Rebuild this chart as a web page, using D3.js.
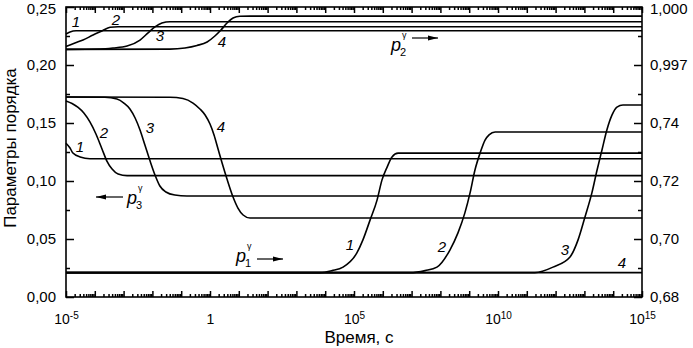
<!DOCTYPE html>
<html><head><meta charset="utf-8">
<script src="https://cdn.jsdelivr.net/npm/d3@7"></script>
<style>
body{margin:0;background:#fff}
svg{display:block}
text{font-family:"Liberation Sans",Arial,Helvetica,sans-serif;fill:#000}
</style>
</head><body>
<svg id="c" width="693" height="348"></svg>
<script>
// ---------- data ----------
const xDecades = [-5,-4,-3,-2,-1,0,1,2,3,4,5,6,7,8,9,10,11,12,13,14,15];
const xLabeled = [-5,0,5,10,15];
const leftTicks = [0,0.05,0.10,0.15,0.20,0.25];
const leftMinor = [0.025,0.075,0.125,0.175,0.225];
const rightLowTicks = [0.68,0.70,0.72,0.74];
const rightLowMinor = [0.69,0.71,0.73,0.75];
const rightHighTicks = [0.997,1.000];
const rightHighMinor = [0.9985];
const curveNames = ["1","2","3","4"];

// p1 (right axis, lower part), [log10 t, value]
const p1c1 = [[-5,0.6884],[3.82,0.6884],[4.24,0.6891],[4.62,0.6903],[5.10,0.6952],[5.31,0.6997],[5.56,0.7066],[5.80,0.7134],[5.97,0.7203],[6.15,0.7248],[6.32,0.7283],[6.53,0.7296],[15,0.7296]];
const p1c2 = [[-5,0.6884],[6.94,0.6884],[7.47,0.6891],[7.88,0.6903],[8.33,0.6962],[8.61,0.7021],[8.85,0.7090],[9.03,0.7159],[9.20,0.7238],[9.38,0.7297],[9.55,0.7341],[9.69,0.7359],[9.90,0.7369],[15,0.7369]];
const p1c3 = [[-5,0.6884],[11.28,0.6884],[11.91,0.6903],[12.50,0.6938],[12.78,0.6997],[13.02,0.7076],[13.26,0.7159],[13.44,0.7238],[13.61,0.7307],[13.78,0.7376],[13.96,0.7428],[14.13,0.7455],[14.34,0.7462],[15,0.7462]];
const p1c4 = [[-5,0.6884],[15,0.6884]];

// p2 (right axis, upper part)
const p2c1 = [[-5,0.99860],[-4.86,0.99871],[-4.65,0.99877],[15,0.99877]];
const p2c2 = [[-5,0.99796],[-4.69,0.99814],[-4.41,0.99829],[-4.06,0.99855],[-3.75,0.99876],[-3.47,0.99895],[-3.19,0.99898],[15,0.99898]];
const p2c3 = [[-5,0.99781],[-3.82,0.99783],[-3.37,0.99788],[-2.88,0.99798],[-2.43,0.99829],[-2.15,0.99866],[-1.91,0.99897],[-1.67,0.99917],[-1.39,0.99924],[15,0.99924]];
const p2c4 = [[-5,0.99781],[-1.39,0.99782],[-0.87,0.99788],[-0.45,0.99801],[-0.10,0.99819],[0.17,0.99850],[0.38,0.99881],[0.59,0.99917],[0.80,0.99943],[1.04,0.99952],[1.39,0.99953],[15,0.99953]];

// p3 (left axis)
const p3c1 = [[-5,0.1325],[-4.86,0.1284],[-4.76,0.1241],[-4.51,0.1207],[-4.17,0.1192],[15,0.1192]];
const p3c2 = [[-5,0.1690],[-4.79,0.1668],[-4.58,0.1634],[-4.38,0.1586],[-4.17,0.1509],[-3.96,0.1405],[-3.75,0.1276],[-3.58,0.1172],[-3.40,0.1103],[-3.19,0.1060],[-2.88,0.1046],[15,0.1046]];
const p3c3 = [[-5,0.1724],[-3.65,0.1722],[-3.23,0.1707],[-2.99,0.1672],[-2.78,0.1621],[-2.60,0.1543],[-2.43,0.1440],[-2.26,0.1310],[-2.08,0.1172],[-1.91,0.1052],[-1.74,0.0957],[-1.53,0.0905],[-1.22,0.0879],[-0.80,0.0871],[15,0.0871]];
const p3c4 = [[-5,0.1724],[-1.39,0.1722],[-0.94,0.1711],[-0.59,0.1672],[-0.35,0.1621],[-0.17,0.1569],[0.0,0.1491],[0.14,0.1397],[0.28,0.1276],[0.42,0.1155],[0.59,0.1017],[0.80,0.0862],[0.97,0.0767],[1.15,0.0707],[1.39,0.0681],[15,0.0681]];

// ---------- layout ----------
const M = {l:66, r:642, t:7, b:297};
const svg = d3.select("#c");
const x = d3.scaleLog().domain([1e-5,1e15]).range([M.l,M.r]);
const yL = d3.scaleLinear().domain([0,0.25]).range([M.b,M.t]);
const yLo = d3.scaleLinear().domain([0.68,0.74]).range([yL(0),yL(0.15)]);
const yHi = d3.scaleLinear().domain([0.997,1.0]).range([yL(0.20),yL(0.25)]);
const comma = n => d => d3.format("."+n+"f")(d).replace(".",",");

function styleAxis(g, fs){
  g.attr("font-family",'"Liberation Sans",Arial,sans-serif').attr("font-size",fs);
  g.select(".domain").remove();
  g.selectAll(".tick line").attr("stroke","#000").attr("stroke-width",1.5);
}
// keep the top-most labels inside the picture
function nudgeTop(g, topVal){
  g.selectAll(".tick text").filter(d => Math.abs(d - topVal) < 1e-9).attr("dy","0.42em");
}

// left axis
svg.append("g").attr("transform",`translate(${M.l},0)`)
  .call(d3.axisLeft(yL).tickValues(leftTicks).tickFormat(comma(2)).tickSizeInner(-8).tickSizeOuter(0).tickPadding(10))
  .call(g=>styleAxis(g,15)).call(g=>nudgeTop(g,0.25));
svg.append("g").attr("transform",`translate(${M.l},0)`)
  .call(d3.axisLeft(yL).tickValues(leftMinor).tickFormat("").tickSizeInner(-4).tickSizeOuter(0))
  .call(g=>styleAxis(g,15));
// right axis (two parts)
[[yLo,rightLowTicks,rightLowMinor,2],[yHi,rightHighTicks,rightHighMinor,3]].forEach(([sc,maj,mi,n])=>{
  svg.append("g").attr("transform",`translate(${M.r},0)`)
    .call(d3.axisRight(sc).tickValues(maj).tickFormat(comma(n)).tickSizeInner(-8).tickSizeOuter(0).tickPadding(8))
    .call(g=>styleAxis(g,15)).call(g=>nudgeTop(g,1.0));
  svg.append("g").attr("transform",`translate(${M.r},0)`)
    .call(d3.axisRight(sc).tickValues(mi).tickFormat("").tickSizeInner(-4).tickSizeOuter(0))
    .call(g=>styleAxis(g,15));
});

// x axes
const decVals = xDecades.map(e=>Math.pow(10,e));
const minorVals = [];
xDecades.slice(0,-1).forEach(e=>{ [2,3,4,5,6,7,8,9].forEach(m=>minorVals.push(m*Math.pow(10,e))); });

const xb = svg.append("g").attr("transform",`translate(0,${M.b})`)
  .call(d3.axisBottom(x).tickValues(decVals).tickSizeInner(-6).tickSizeOuter(0).tickPadding(17).tickFormat(""))
  .call(g=>styleAxis(g,14));
xb.selectAll(".tick text").each(function(d){
  const e = Math.round(Math.log10(d));
  const t = d3.select(this).text(null);
  if(!xLabeled.includes(e)) return;
  if(e===0){ t.text("1"); return; }
  t.append("tspan").text("10");
  t.append("tspan").attr("dy","-5").attr("font-size",10).text(String(e));
});
svg.append("g").attr("transform",`translate(0,${M.b})`)
  .call(d3.axisBottom(x).tickValues(minorVals).tickSizeInner(-3).tickSizeOuter(0).tickFormat(""))
  .call(g=>styleAxis(g,14));
svg.append("g").attr("transform",`translate(0,${M.t})`)
  .call(d3.axisTop(x).tickValues(decVals).tickSizeInner(-6).tickSizeOuter(0).tickFormat(""))
  .call(g=>styleAxis(g,14));
svg.append("g").attr("transform",`translate(0,${M.t})`)
  .call(d3.axisTop(x).tickValues(minorVals).tickSizeInner(-3).tickSizeOuter(0).tickFormat(""))
  .call(g=>styleAxis(g,14));

// frame
svg.append("rect").attr("x",M.l).attr("y",M.t).attr("width",M.r-M.l).attr("height",M.b-M.t)
  .attr("fill","none").attr("stroke","#000").attr("stroke-width",1.6);

// curves
const lineFor = sc => d3.line().x(d=>x(Math.pow(10,d[0]))).y(d=>sc(d[1])).curve(d3.curveMonotoneX);
const groups = [[yLo,[p1c1,p1c2,p1c3,p1c4]],[yHi,[p2c1,p2c2,p2c3,p2c4]],[yL,[p3c1,p3c2,p3c3,p3c4]]];
groups.forEach(([sc,arr])=>{
  svg.append("g").selectAll("path").data(arr).join("path")
    .attr("d",lineFor(sc)).attr("fill","none").attr("stroke","#000").attr("stroke-width",1.6);
});

// curve number labels (pixel layout)
const labelPos = {
  p2:[[76,27],[116,25],[160,41],[222,47]],
  p3:[[80,152],[104,138],[150,133],[221,132]],
  p1:[[350,250],[442,252],[565,255],[622,268]]
};
Object.values(labelPos).forEach(pos=>{
  svg.append("g").selectAll("text").data(pos).join("text")
    .attr("x",d=>d[0]).attr("y",d=>d[1]).attr("text-anchor","middle")
    .attr("font-size",15).attr("font-style","italic")
    .text((d,i)=>curveNames[i]);
});

// parameter symbols with arrows
function symbol(px,py,sub,dir,ax1,ax2,ay){
  const t = svg.append("text").attr("x",px).attr("y",py).attr("font-size",18).attr("font-style","italic");
  t.append("tspan").text("p");
  svg.append("text").attr("x",px+9).attr("y",py+5).attr("font-size",11).text(sub);
  svg.append("text").attr("x",px+11).attr("y",py-13).attr("font-size",9).text("γ");
  svg.append("line").attr("x1",ax1).attr("x2",ax2).attr("y1",ay).attr("y2",ay).attr("stroke","#000").attr("stroke-width",1.2);
  const hx = dir>0?ax2:ax1, b = hx - dir*10;
  svg.append("path").attr("d",`M${hx},${ay}L${b},${ay-2.5}L${b},${ay+2.5}Z`).attr("fill","#000");
}
symbol(391,51,"2",1,412,438,38);
symbol(127,204,"3",-1,96,123,197);
symbol(236,262,"1",1,257,283,259);

// axis titles
svg.append("text").attr("x",359).attr("y",343).attr("text-anchor","middle").attr("font-size",17).text("Время, с");
svg.append("text").attr("transform","translate(16,148) rotate(-90)").attr("text-anchor","middle").attr("font-size",17).text("Параметры порядка");
</script>
</body></html>
